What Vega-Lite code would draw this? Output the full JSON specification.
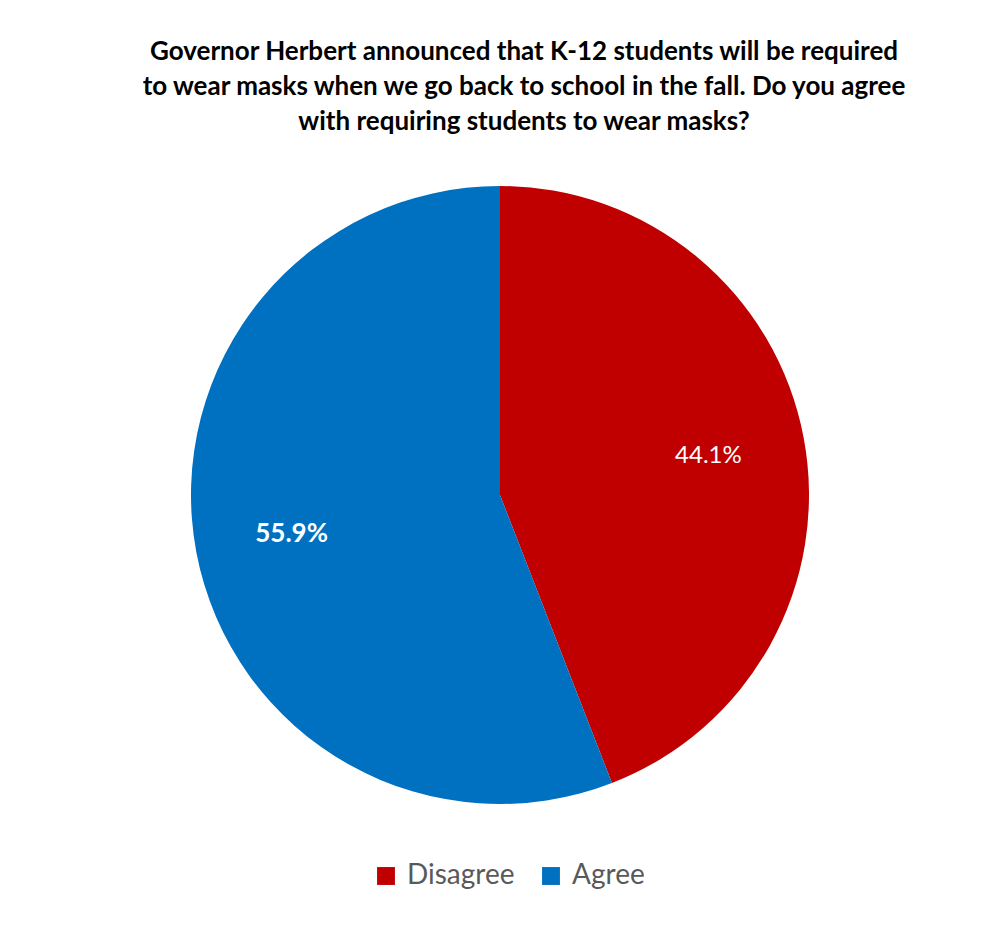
{
  "$schema": "https://vega.github.io/schema/vega-lite/v6.json",
  "width": 1000,
  "height": 618,
  "autosize": {"type": "none"},
  "padding": {"top": 186, "left": 0, "right": 0, "bottom": 126},
  "background": "white",
  "title": {
    "text": ["Governor Herbert announced that K-12 students will be required", "to wear masks when we go back to school in the fall. Do you agree", "with requiring students to wear masks?"],
    "font": "Lato",
    "fontSize": 26,
    "fontWeight": "bold",
    "color": "#000000",
    "lineHeight": 35,
    "anchor": "middle",
    "dx": 24,
    "offset": 51
  },
  "data": {
    "values": [
      {"response": "Disagree", "pct": 44.1, "idx": 1, "label": "44.1%"},
      {"response": "Agree", "pct": 55.9, "idx": 2, "label": "55.9%"}
    ]
  },
  "encoding": {
    "theta": {"field": "pct", "type": "quantitative", "stack": true},
    "order": {"field": "idx", "type": "quantitative"}
  },
  "layer": [
    {
      "mark": {"type": "arc", "radius": 309},
      "encoding": {
        "color": {
          "field": "response",
          "type": "nominal",
          "scale": {"domain": ["Disagree", "Agree"], "range": ["#C00000", "#0070C0"]},
          "legend": {
            "title": null,
            "orient": "none",
            "legendX": 372,
            "legendY": 676,
            "direction": "horizontal",
            "symbolType": "square",
            "symbolSize": 320,
            "symbolStrokeWidth": 0,
            "labelFont": "Lato",
            "labelFontSize": 28,
            "labelColor": "#595959",
            "columnPadding": 22,
            "labelOffset": 7
          }
        }
      }
    },
    {
      "mark": {"type": "text", "radius": 212, "font": "Lato", "fontSize": 24, "fontWeight": "normal", "color": "white"},
      "encoding": {
        "text": {"field": "label"},
        "opacity": {"condition": {"test": "datum.response === 'Disagree'", "value": 1}, "value": 0}
      }
    },
    {
      "mark": {"type": "text", "radius": 212, "font": "Lato", "fontSize": 26, "fontWeight": "bold", "color": "white"},
      "encoding": {
        "text": {"field": "label"},
        "opacity": {"condition": {"test": "datum.response === 'Agree'", "value": 1}, "value": 0}
      }
    }
  ],
  "config": {"view": {"stroke": null}}
}
